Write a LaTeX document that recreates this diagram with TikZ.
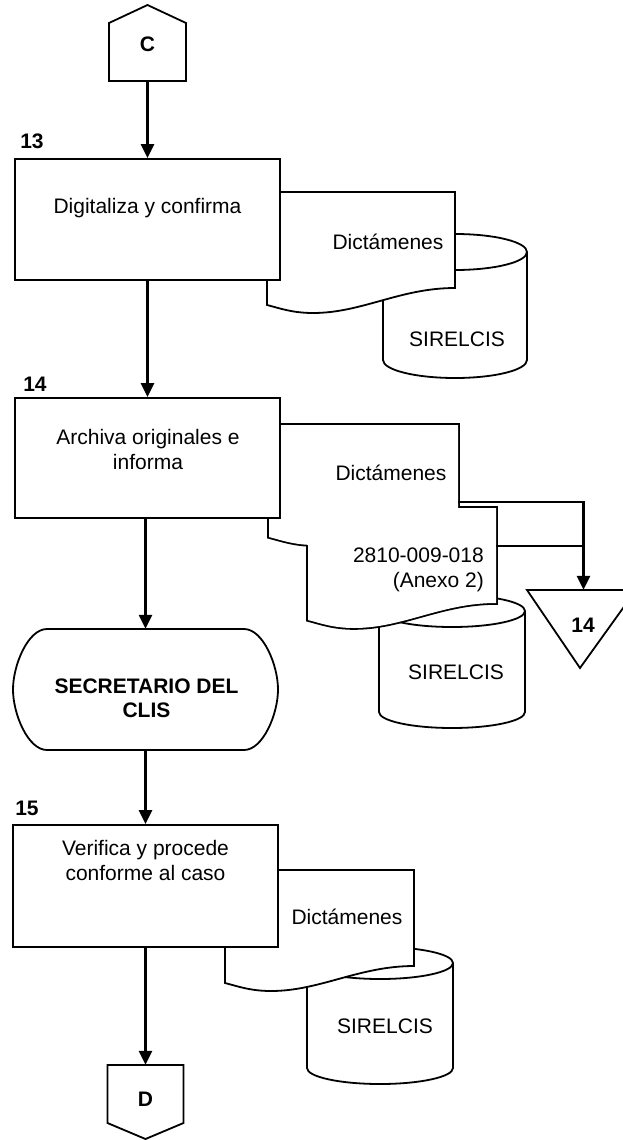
\documentclass[tikz,border=0pt]{standalone}
\usepackage{fontspec}
\setmainfont{Liberation Sans}
\usetikzlibrary{arrows.meta}
\newcommand\mydoc[5]{\path[#1] (#2,#3) -- (#4,#3) -- (#4,{#5-17}) .. controls ({#4-55},{#5-17}) and ({#2+95},{#5+8}) .. ({#2+46},{#5+8}) .. controls ({#2+25},{#5+8}) and ({#2+12},{#5+3}) .. (#2,#5) -- cycle;}
\newcommand\mycyl[6]{%
 \path[#1] ({#2-#3},#4) -- ({#2-#3},#5) arc[start angle=180,end angle=360,x radius=#3pt,y radius=#6pt] -- ({#2+#3},#4) arc[start angle=0,end angle=180,x radius=#3pt,y radius=#6pt] -- cycle;
 \draw[line width=1.8pt] ({#2-#3},#4) arc[start angle=180,end angle=360,x radius=#3pt,y radius=#6pt];}
\tikzset{
 shp/.style={draw, line width=1.8pt, fill=white, line join=miter},
 ghost/.style={draw=none, inner sep=0pt},
 arr/.style={line width=2.6pt, -{Triangle[length=14pt,width=13pt]}},
 ln/.style={line width=2.6pt},
 txt/.style={font=\fontsize{21}{25}\selectfont, align=center, inner sep=0pt},
 btxt/.style={font=\bfseries\fontsize{21}{24}\selectfont, align=center, inner sep=0pt},
}
\begin{document}
\begin{tikzpicture}[x=1pt,y=-1pt]
\useasboundingbox (0,0) rectangle (622,1140);
\fill[white] (0,0) rectangle (622,1140);

% connector C
\path[shp] (109,23) -- (147.5,5) -- (186,23) -- (186,81) -- (109,81) -- cycle;
\node[ghost, minimum width=77pt, minimum height=76pt] (nC) at (147.5,43) {};
\node[btxt] (tC) at (147.5,44) {C};

% block 13
\mycyl{shp}{455}{72}{252}{360}{18}
\node[ghost] (cyl13) at (455,306) {};
\mydoc{shp}{267}{192}{455}{305}
\node[ghost, minimum width=188pt, minimum height=113pt] (doc13) at (361,248.5) {};
\node[ghost, minimum width=265pt, minimum height=121pt, shp] (b13) at (147.5,219.5) {};
\node[txt] (t13) at (147.5,208) {Digitaliza y confirma};
\node[btxt] (l13) at (32,141) {13};
\node[txt] (td13) at (388,242) {Dictámenes};
\node[txt] (tc13) at (457,339) {SIRELCIS};

% block 14
\mycyl{shp}{452}{73}{611}{712}{16}
\node[ghost] (cyl14) at (452,660) {};
\mydoc{draw, line width=3.6pt}{269}{425}{458}{537}
\mydoc{draw, line width=3.6pt}{308}{508}{496}{620}
\mydoc{fill=white}{269}{425}{458}{537}
\mydoc{fill=white}{308}{508}{496}{620}
\node[ghost, minimum width=189pt, minimum height=112pt] (doc14a) at (363.5,481) {};
\node[ghost, minimum width=188pt, minimum height=112pt] (doc14b) at (402,564) {};
\node[ghost, minimum width=265pt, minimum height=120pt, shp] (b14) at (147.5,458) {};
\node[txt] (t14) at (148,449) {Archiva originales e\\informa};
\node[btxt] (l14) at (35,384) {14};
\node[txt] (td14) at (391,473) {Dictámenes};
\node[txt, align=right, anchor=east] (tf14) at (484,569.5) {2810-009-018\\(Anexo 2)};
\node[txt] (tc14) at (456,672) {SIRELCIS};

% off-page triangle
\path[shp] (527,590) -- (636,590) -- (580,668) -- cycle;
\node[ghost, minimum width=108pt, minimum height=78pt] (tri) at (583.5,629) {};
\node[btxt] (ttri) at (583,625) {14};
\coordinate (d14aout) at (458,502);
\coordinate (d14bout) at (496,546);
\draw[arr] (d14aout) -| (tri.north);
\draw[ln] (d14bout) -- (d14bout -| tri.north);

% terminal
\path[shp] (47,629) -- (244,629) .. controls (263,629) and (278,665) .. (278,689.5) .. controls (278,714) and (263,750) .. (244,750) -- (47,750) .. controls (28,750) and (13,714) .. (13,689.5) .. controls (13,665) and (28,629) .. (47,629) -- cycle;
\node[ghost, minimum width=265pt, minimum height=121pt] (term) at (145.5,689.5) {};
\node[btxt] (tterm) at (146.5,698.5) {SECRETARIO DEL\\CLIS};

% block 15
\mycyl{shp}{380}{73}{963}{1068}{16}
\node[ghost] (cyl15) at (380,1015) {};
\mydoc{shp}{225}{870}{414}{983}
\node[ghost, minimum width=189pt, minimum height=113pt] (doc15) at (319.5,926.5) {};
\node[ghost, minimum width=265pt, minimum height=122pt, shp] (b15) at (145.5,886) {};
\node[txt] (t15) at (145.5,860.5) {Verifica y procede\\conforme al caso};
\node[btxt] (l15) at (27,808) {15};
\node[txt] (td15) at (347,917) {Dictámenes};
\node[txt] (tc15) at (385,1026) {SIRELCIS};

% connector D
\path[shp] (107.5,1065) -- (183.5,1065) -- (183.5,1123) -- (145.5,1139) -- (107.5,1123) -- cycle;
\node[ghost, minimum width=76pt, minimum height=74pt] (nD) at (145.5,1102) {};
\node[btxt] (tD) at (145.5,1099) {D};

% flow arrows
\draw[arr] (nC.south) -- (b13.north);
\draw[arr] (b13.south) -- (b14.north);
\draw[arr] (b14.south -| term.north) -- (term.north);
\draw[arr] (term.south) -- (b15.north);
\draw[arr] (b15.south -| nD.north) -- (nD.north);
\end{tikzpicture}
\end{document}
